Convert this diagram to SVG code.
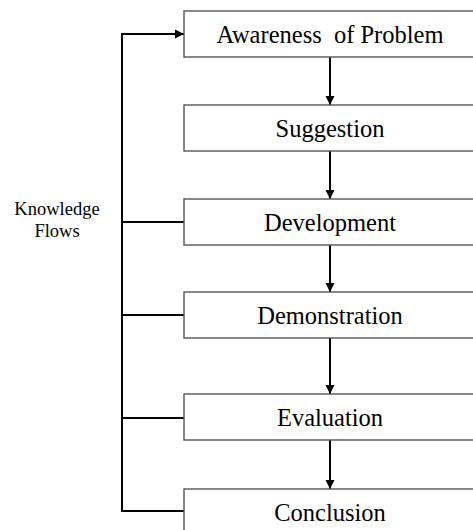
<svg xmlns="http://www.w3.org/2000/svg" width="473" height="530" viewBox="0 0 473 530">
  <defs>
    <marker id="arrow" markerWidth="9" markerHeight="10" refX="9" refY="5" orient="auto" markerUnits="userSpaceOnUse">
      <path d="M0,0.5 L9,5 L0,9.5 Z" fill="#000"/>
    </marker>
    <style>
      .box { fill: #fff; stroke: #555; stroke-width: 1.4; }
      .label { font-family: "Liberation Serif", "Times New Roman", serif; font-size: 24.5px; fill: #000; text-anchor: middle; white-space: pre; }
      .side { font-family: "Liberation Serif", "Times New Roman", serif; font-size: 18.5px; fill: #000; text-anchor: middle; }
      .conn { fill: none; stroke: #000; stroke-width: 2; }
    </style>
  </defs>
  <rect width="473" height="530" fill="#fff"/>

  <g id="connectors">
    <!-- vertical flow between steps -->
    <line class="conn" x1="330" y1="57" x2="330" y2="105" marker-end="url(#arrow)"/>
    <line class="conn" x1="330" y1="151" x2="330" y2="199" marker-end="url(#arrow)"/>
    <line class="conn" x1="330" y1="245" x2="330" y2="292" marker-end="url(#arrow)"/>
    <line class="conn" x1="330" y1="338" x2="330" y2="394" marker-end="url(#arrow)"/>
    <line class="conn" x1="330" y1="440" x2="330" y2="489" marker-end="url(#arrow)"/>
    <!-- knowledge flows feedback loop -->
    <polyline class="conn" points="184,511 122,511 122,34 184,34" marker-end="url(#arrow)"/>
    <line class="conn" x1="122" y1="222" x2="184" y2="222"/>
    <line class="conn" x1="122" y1="315" x2="184" y2="315"/>
    <line class="conn" x1="122" y1="418" x2="184" y2="418"/>
  </g>

  <g id="knowledge-flows">
    <text class="side" x="57" y="215">Knowledge</text>
    <text class="side" x="57" y="237">Flows</text>
  </g>

  <g id="awareness">
    <rect class="box" x="184" y="11" width="300" height="46"/>
    <text class="label" x="330" y="43" xml:space="preserve">Awareness  of Problem</text>
  </g>
  <g id="suggestion">
    <rect class="box" x="184" y="105" width="300" height="46"/>
    <text class="label" x="330" y="137">Suggestion</text>
  </g>
  <g id="development">
    <rect class="box" x="184" y="199" width="300" height="46"/>
    <text class="label" x="330" y="231">Development</text>
  </g>
  <g id="demonstration">
    <rect class="box" x="184" y="292" width="300" height="46"/>
    <text class="label" x="330" y="324">Demonstration</text>
  </g>
  <g id="evaluation">
    <rect class="box" x="184" y="394" width="300" height="46"/>
    <text class="label" x="330" y="426">Evaluation</text>
  </g>
  <g id="conclusion">
    <rect class="box" x="184" y="489" width="300" height="46"/>
    <text class="label" x="330" y="521">Conclusion</text>
  </g>
</svg>
